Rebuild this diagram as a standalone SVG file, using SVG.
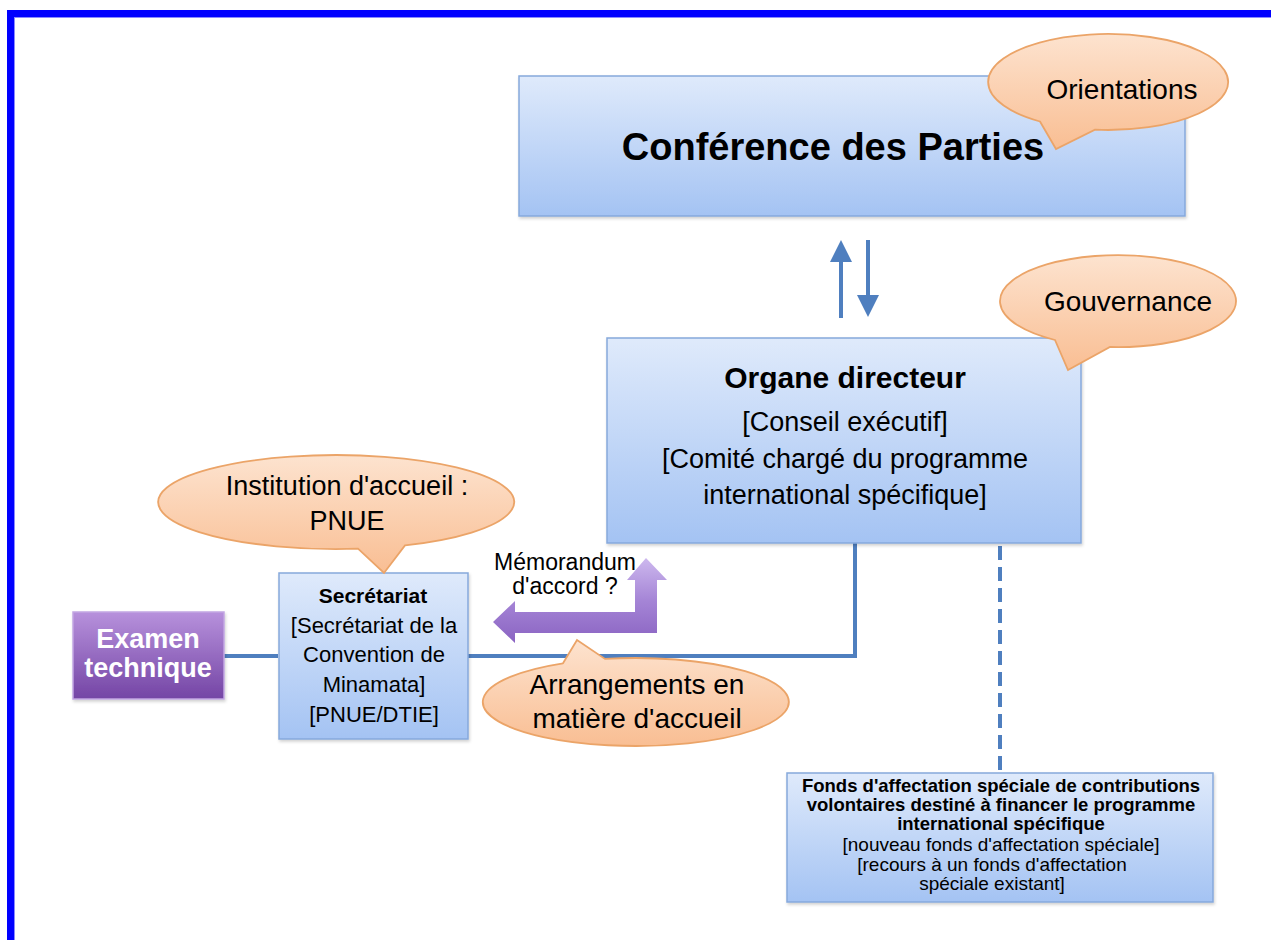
<svg xmlns="http://www.w3.org/2000/svg" width="1271" height="940" viewBox="0 0 1271 940">
<defs>
<linearGradient id="gBlue" x1="0" y1="0" x2="0" y2="1"><stop offset="0" stop-color="#dfeafb"/><stop offset="1" stop-color="#a4c3f3"/></linearGradient>
<linearGradient id="gOrange" x1="0" y1="0" x2="0" y2="1"><stop offset="0" stop-color="#fde3cf"/><stop offset="1" stop-color="#f9be93"/></linearGradient>
<linearGradient id="gPurple" x1="0" y1="0" x2="0" y2="1"><stop offset="0" stop-color="#b791dc"/><stop offset="1" stop-color="#7445a5"/></linearGradient>
<linearGradient id="gArrow" x1="0" y1="0" x2="0" y2="1"><stop offset="0" stop-color="#cdb8ee"/><stop offset="0.5" stop-color="#a585d6"/><stop offset="1" stop-color="#8a63c2"/></linearGradient>
<filter id="sh" x="-5%" y="-5%" width="110%" height="115%"><feDropShadow dx="1" dy="2" stdDeviation="1.5" flood-color="#000" flood-opacity="0.18"/></filter>
</defs>
<style>
text{font-family:"Liberation Sans",Arial,sans-serif;fill:#000;text-anchor:middle}
.box{fill:url(#gBlue);stroke:#86a9dc;stroke-width:1.5}
.bub{fill:url(#gOrange);stroke:#eba468;stroke-width:1.8}
.b{font-weight:bold}
.conn{stroke:#4f7fbf;stroke-width:4;fill:none}
.head{fill:#4f7fbf}
</style>
<rect x="0" y="0" width="1271" height="940" fill="#fff"/>
<g id="frame">
<rect x="7" y="10" width="1264" height="7" fill="#0000ff"/>
<rect x="7" y="10" width="7" height="930" fill="#0000ff"/>
<line x1="14.5" y1="17" x2="14.5" y2="940" stroke="#8a8aff" stroke-width="1"/>
<line x1="14" y1="17.5" x2="1271" y2="17.5" stroke="#8a8aff" stroke-width="1"/>
</g>
<g id="connectors">
<line class="conn" x1="841" y1="318" x2="841" y2="258"/>
<path class="head" d="M841 240 L852 262 L830 262 Z"/>
<line class="conn" x1="868" y1="240" x2="868" y2="300"/>
<path class="head" d="M868 317 L879 295 L857 295 Z"/>
<polyline class="conn" points="224,656 278,656"/>
<polyline class="conn" points="468,656 855,656 855,543"/>
<line class="conn" x1="1000" y1="546" x2="1000" y2="773" stroke-width="3.5" stroke-dasharray="14,7"/>
</g>
<g id="cop">
<rect class="box" x="519" y="76" width="666" height="140" filter="url(#sh)"/>
<text class="b" x="833" y="160" font-size="38">Conférence des Parties</text>
</g>
<g id="orientations">
<path class="bub" d="M1040 121.5 L1056 149 L1095 129.7 A120 48 0 1 0 1040 121.5 Z"/>
<text x="1122" y="99" font-size="28">Orientations</text>
</g>
<g id="organe">
<rect class="box" x="607" y="338" width="474" height="205" filter="url(#sh)"/>
<text class="b" x="845" y="388" font-size="30">Organe directeur</text>
<text x="845" y="431" font-size="27">[Conseil exécutif]</text>
<text x="845" y="468" font-size="27">[Comité chargé du programme</text>
<text x="845" y="504" font-size="27">international spécifique]</text>
</g>
<g id="gouvernance">
<path class="bub" d="M1055 340 L1068 370 L1110 347 A118 46 0 1 0 1055 340 Z"/>
<text x="1128" y="311" font-size="28">Gouvernance</text>
</g>
<g id="examen">
<rect x="73" y="612" width="151" height="87" fill="url(#gPurple)" stroke="#c2a6e2" stroke-width="1.5" filter="url(#sh)"/>
<text class="b" x="148" y="648" font-size="27" style="fill:#fff">Examen</text>
<text class="b" x="148" y="677" font-size="27" style="fill:#fff">technique</text>
</g>
<g id="secretariat">
<rect class="box" x="279" y="573" width="189" height="166" filter="url(#sh)"/>
<text class="b" x="373" y="603" font-size="21">Secrétariat</text>
<text x="374" y="633" font-size="22">[Secrétariat de la</text>
<text x="374" y="662" font-size="22">Convention de</text>
<text x="374" y="692" font-size="22">Minamata]</text>
<text x="374" y="722" font-size="22">[PNUE/DTIE]</text>
</g>
<g id="institution">
<path class="bub" d="M358 548.7 L384 573 L405 545.4 A178 47 0 1 0 358 548.7 Z"/>
<text x="347" y="495" font-size="27">Institution d'accueil :</text>
<text x="347" y="530" font-size="27">PNUE</text>
</g>
<g id="memorandum">
<path d="M493 622 L515 601 L515 612 L635 612 L635 580 L627 580 L646 558 L667 580 L657 580 L657 633 L515 633 L515 643 Z" fill="url(#gArrow)"/>
<text x="565" y="570" font-size="23">Mémorandum</text>
<text x="565" y="594" font-size="23">d'accord ?</text>
</g>
<g id="arrangements">
<path class="bub" d="M563 663.3 L577 640 L605 658.9 A153 44 0 1 1 563 663.3 Z"/>
<text x="637" y="694" font-size="28">Arrangements en</text>
<text x="637" y="728" font-size="28">matière d'accueil</text>
</g>
<g id="fonds">
<rect class="box" x="787" y="773" width="426" height="129" filter="url(#sh)"/>
<text class="b" x="1001" y="792" font-size="18.5">Fonds d'affectation spéciale de contributions</text>
<text class="b" x="1001" y="811" font-size="18.5">volontaires destiné à financer le programme</text>
<text class="b" x="1001" y="830" font-size="18.5">international spécifique</text>
<text x="1001" y="851" font-size="19">[nouveau fonds d'affectation spéciale]</text>
<text x="992" y="871" font-size="19">[recours à un fonds d'affectation</text>
<text x="992" y="890" font-size="19">spéciale existant]</text>
</g>
</svg>
